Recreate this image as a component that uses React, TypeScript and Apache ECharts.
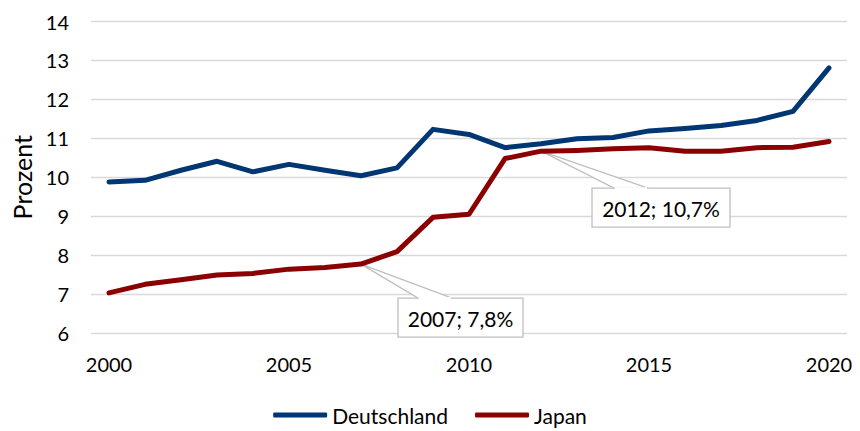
import React, { useEffect, useRef } from "react";
import * as echarts from "echarts";

const years = [
  "2000", "2001", "2002", "2003", "2004", "2005", "2006", "2007", "2008", "2009", "2010",
  "2011", "2012", "2013", "2014", "2015", "2016", "2017", "2018", "2019", "2020",
];
const deutschland = [
  9.88, 9.92, 10.18, 10.41, 10.14, 10.33, 10.18, 10.04, 10.24, 11.23, 11.1,
  10.76, 10.86, 10.99, 11.02, 11.19, 11.25, 11.33, 11.46, 11.69, 12.81,
];
const japan = [
  7.03, 7.25, 7.37, 7.49, 7.53, 7.64, 7.68, 7.77, 8.09, 8.97, 9.05,
  10.48, 10.67, 10.69, 10.73, 10.76, 10.67, 10.67, 10.76, 10.77, 10.92,
];
const calloutYears = ["2007", "2012"];
const calloutTexts = ["2007; 7,8%", "2012; 10,7%"];

const FONT = "Lato, 'Noto Sans', sans-serif";
const FS = 20;

export default function App() {
  const ref = useRef<HTMLDivElement>(null);
  useEffect(() => {
    if (!ref.current) return;
    const chart = echarts.init(ref.current, undefined, { renderer: "svg" });
    chart.setOption({
      animation: false,
      backgroundColor: "#ffffff",
      textStyle: { fontFamily: FONT },
      grid: { left: 91, right: 13, top: 21.5, bottom: 98, containLabel: false },
      legend: {
        data: ["Deutschland", "Japan"],
        left: "center",
        top: 401,
        padding: [2, 5, 2, 5],
        icon: "roundRect",
        itemWidth: 54,
        itemHeight: 5,
        itemGap: 27,
        textStyle: { fontFamily: FONT, fontSize: 21, color: "#000", lineHeight: 24 },
      },
      xAxis: {
        type: "category",
        data: years,
        boundaryGap: true,
        axisLine: { show: false },
        axisTick: { show: false },
        axisLabel: { interval: 4, margin: 21, fontSize: FS, color: "#000", fontFamily: FONT },
        splitLine: { show: false },
      },
      yAxis: {
        type: "value",
        min: 6,
        max: 14,
        interval: 1,
        name: "Prozent",
        nameLocation: "middle",
        nameGap: 56,
        nameTextStyle: { fontSize: 25, color: "#000", fontFamily: FONT },
        axisLine: { show: false },
        axisTick: { show: false },
        axisLabel: { margin: 22, fontSize: FS, color: "#000", fontFamily: FONT },
        splitLine: { lineStyle: { color: "#d9d9d9", width: 1.3 } },
      },
      series: [
        {
          name: "Deutschland",
          type: "line",
          data: deutschland,
          symbol: "none",
          color: "#003671",
          lineStyle: { width: 5, color: "#003671", cap: "round", join: "round" },
          z: 3,
        },
        {
          name: "Japan",
          type: "line",
          data: japan,
          symbol: "none",
          color: "#8b0000",
          lineStyle: { width: 5, color: "#8b0000", cap: "round", join: "round" },
          z: 3,
        },
      ],
    });

    const boxes = [
      { dx: 37, dy: 34, w: 125, h: 39, b0: 57, b1: 91 },
      { dx: 51, dy: 37, w: 138, h: 39, b0: 73, b1: 107 },
    ];
    const elements: any[] = [];
    calloutYears.forEach((yr, k) => {
      const i = years.indexOf(yr);
      const p = chart.convertToPixel({ xAxisIndex: 0, yAxisIndex: 0 }, [i, japan[i]]) as number[];
      const b = boxes[k];
      const bx = p[0] + b.dx;
      const by = p[1] + b.dy;
      elements.push({
        type: "rect",
        z: 1,
        shape: { x: bx, y: by, width: b.w, height: b.h },
        style: { fill: "#ffffff", stroke: "#bfbfbf", lineWidth: 1.3 },
      });
      elements.push({
        type: "polygon",
        z: 1,
        shape: { points: [[p[0], p[1]], [p[0] + b.b0, by], [p[0] + b.b1, by]] },
        style: { fill: "#ffffff", stroke: "#bfbfbf", lineWidth: 1.3 },
      });
      elements.push({
        type: "line",
        z: 1,
        shape: { x1: p[0] + b.b0 + 0.8, y1: by, x2: p[0] + b.b1 - 0.8, y2: by },
        style: { stroke: "#ffffff", lineWidth: 2 },
      });
      elements.push({
        type: "text",
        z: 1,
        x: bx + b.w / 2,
        y: by + b.h / 2 + 1,
        style: {
          text: calloutTexts[k],
          fontSize: 21,
          fontFamily: FONT,
          fill: "#000",
          align: "center",
          verticalAlign: "middle",
        },
      });
    });
    chart.setOption({ graphic: elements });

    return () => chart.dispose();
  }, []);
  return (
    <div
      ref={ref}
      style={{ position: "fixed", left: 0, top: 0, width: 860, height: 431 }}
    />
  );
}
